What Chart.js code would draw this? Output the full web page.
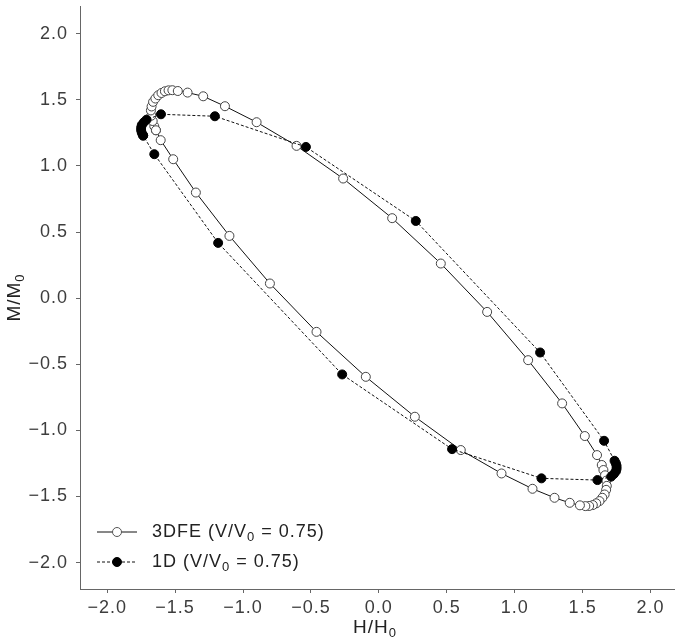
<!DOCTYPE html>
<html lang="en">
<head>
    <meta charset="UTF-8">
    <script src="https://cdn.jsdelivr.net/npm/chart.js"></script>
    <style>
        body { margin: 0; padding: 0; background: #fff; }
        .chart-container { position: relative; width: 675px; height: 640px; }
    </style>
</head>
<body>

    <div class="chart-container">
        <canvas id="myChart" width="675" height="640"></canvas>
    </div>

    <script>
        // --- DATA ---
        const h3dfe = [-1.641, -1.653, -1.665, -1.675, -1.678, -1.673, -1.662, -1.645, -1.624, -1.600, -1.575, -1.548, -1.520, -1.480,
                       -1.408, -1.293, -1.133, -0.900, -0.606, -0.263, 0.098, 0.456, 0.797, 1.099, 1.349, 1.516, 1.606, 1.641,
                       1.653, 1.665, 1.675, 1.678, 1.673, 1.662, 1.645, 1.624, 1.600, 1.575, 1.548, 1.520, 1.480,
                       1.405, 1.293, 1.131, 0.903, 0.603, 0.265, -0.096, -0.459, -0.802, -1.100, -1.347, -1.514, -1.606, -1.641];
        const m3dfe = [1.270, 1.300, 1.340, 1.380, 1.420, 1.450, 1.485, 1.510, 1.535, 1.552, 1.565, 1.572, 1.573, 1.567,
                       1.555, 1.527, 1.452, 1.331, 1.152, 0.905, 0.605, 0.262, -0.104, -0.469, -0.796, -1.043, -1.187, -1.262,
                       -1.300, -1.340, -1.380, -1.420, -1.450, -1.485, -1.510, -1.535, -1.552, -1.565, -1.572, -1.573, -1.567,
                       -1.548, -1.510, -1.442, -1.326, -1.149, -0.897, -0.595, -0.255, 0.111, 0.471, 0.799, 1.051, 1.195, 1.270];

        const h1d = [-1.735, -1.745, -1.750, -1.750, -1.745, -1.730, -1.710, -1.604, -1.207, -0.537, 0.272, 1.187, 1.658,
                     1.735, 1.745, 1.750, 1.750, 1.745, 1.730, 1.710, 1.609, 1.197, 0.539, -0.270, -1.183, -1.653, -1.735];
        const m1d = [1.230, 1.250, 1.270, 1.290, 1.310, 1.330, 1.350, 1.391, 1.376, 1.144, 0.584, -0.411, -1.079,
                     -1.230, -1.250, -1.270, -1.290, -1.310, -1.330, -1.350, -1.376, -1.363, -1.142, -0.577, 0.418, 1.089, 1.230];

        const tickValues = [-2.0, -1.5, -1.0, -0.5, 0.0, 0.5, 1.0, 1.5, 2.0];

        const FONT = '"Liberation Sans", Arial, Helvetica, sans-serif';

        function toPoints(xs, ys) {
            return xs.map((x, i) => ({ x: x, y: ys[i] }));
        }

        function fmt(v) {
            const s = Math.abs(v).toFixed(1);
            return v < -1e-9 ? '\u2212' + s : s;
        }

        // draws text with subscript pieces: parts = [[text, isSub], ...]
        function drawParts(ctx, parts, x, y, size, align) {
            const subSize = Math.round(size * 0.7);
            let total = 0;
            parts.forEach(p => {
                ctx.font = (p[1] ? subSize : size) + 'px ' + FONT;
                total += ctx.measureText(p[0]).width;
            });
            let cx = align === 'center' ? x - total / 2 : x;
            ctx.textAlign = 'left';
            ctx.textBaseline = 'middle';
            parts.forEach(p => {
                ctx.font = (p[1] ? subSize : size) + 'px ' + FONT;
                ctx.fillText(p[0], cx, p[1] ? y + size * 0.3 : y);
                cx += ctx.measureText(p[0]).width;
            });
        }

        const extrasPlugin = {
            id: 'extras',
            beforeDraw(chart) {
                // slightly looser text, like the original
                chart.ctx.letterSpacing = '1px';
            },
            afterDraw(chart) {
                const ctx = chart.ctx;
                const area = chart.chartArea;
                ctx.save();
                ctx.letterSpacing = '1px';
                ctx.fillStyle = '#222';

                // axis titles
                drawParts(ctx, [['H/H', false], ['0', true]], 375, 628, 19, 'center');
                ctx.save();
                ctx.translate(15, (area.top + area.bottom) / 2);
                ctx.rotate(-Math.PI / 2);
                drawParts(ctx, [['M/M', false], ['0', true]], 0, 0, 19, 'center');
                ctx.restore();

                // legend
                const rows = [
                    { y: 532, dash: [], fill: '#fff', label: '3DFE (V/V' },
                    { y: 562, dash: [3, 2], fill: '#000', label: '1D (V/V' }
                ];
                rows.forEach(r => {
                    ctx.beginPath();
                    ctx.setLineDash(r.dash);
                    ctx.strokeStyle = '#111';
                    ctx.lineWidth = 1;
                    ctx.moveTo(97, r.y);
                    ctx.lineTo(137, r.y);
                    ctx.stroke();
                    ctx.setLineDash([]);
                    ctx.beginPath();
                    ctx.arc(117, r.y, 4.5, 0, Math.PI * 2);
                    ctx.fillStyle = r.fill;
                    ctx.fill();
                    ctx.strokeStyle = r.fill === '#fff' ? '#555' : '#000';
                    ctx.stroke();
                    ctx.fillStyle = '#222';
                    drawParts(ctx, [[r.label, false], ['0', true], [' = 0.75)', false]], 152, r.y, 18, 'left');
                });
                ctx.restore();
            }
        };

        const ctx = document.getElementById('myChart').getContext('2d');

        new Chart(ctx, {
            type: 'scatter',
            data: {
                datasets: [
                    {
                        label: '3DFE (V/V0 = 0.75)',
                        data: toPoints(h3dfe, m3dfe),
                        showLine: true,
                        borderColor: '#111',
                        borderWidth: 1,
                        pointRadius: 4.5,
                        pointBackgroundColor: '#fff',
                        pointBorderColor: '#444',
                        pointBorderWidth: 1,
                        order: 1
                    },
                    {
                        label: '1D (V/V0 = 0.75)',
                        data: toPoints(h1d, m1d),
                        showLine: true,
                        borderColor: '#111',
                        borderWidth: 1,
                        borderDash: [3, 2],
                        pointRadius: 4.5,
                        pointBackgroundColor: '#000',
                        pointBorderColor: '#000',
                        pointBorderWidth: 1,
                        order: 0
                    }
                ]
            },
            options: {
                responsive: false,
                animation: false,
                devicePixelRatio: 1,
                layout: { autoPadding: false, padding: { left: 0, right: 0, top: 6, bottom: 0 } },
                scales: {
                    x: {
                        type: 'linear',
                        min: -2.2,
                        max: 2.18,
                        afterFit: s => { s.height = 51; s.paddingLeft = 0; s.paddingRight = 0; },
                        afterBuildTicks: s => { s.ticks = tickValues.map(v => ({ value: v })); },
                        ticks: {
                            includeBounds: false,
                            color: '#3d3d3d',
                            padding: 4,
                            font: { size: 18, family: FONT },
                            callback: v => fmt(v)
                        },
                        grid: { drawOnChartArea: false, tickLength: 4, color: '#666' },
                        border: { color: '#666', width: 1 }
                    },
                    y: {
                        type: 'linear',
                        min: -2.2,
                        max: 2.21,
                        afterFit: s => { s.width = 80; s.paddingTop = 0; s.paddingBottom = 0; },
                        afterBuildTicks: s => { s.ticks = tickValues.map(v => ({ value: v })); },
                        ticks: {
                            includeBounds: false,
                            color: '#3d3d3d',
                            padding: 8,
                            font: { size: 18, family: FONT },
                            callback: v => fmt(v)
                        },
                        grid: { drawOnChartArea: false, tickLength: 4, color: '#666' },
                        border: { color: '#666', width: 1 }
                    }
                },
                plugins: {
                    legend: { display: false },
                    tooltip: { enabled: false }
                }
            },
            plugins: [extrasPlugin]
        });
    </script>
</body>
</html>
